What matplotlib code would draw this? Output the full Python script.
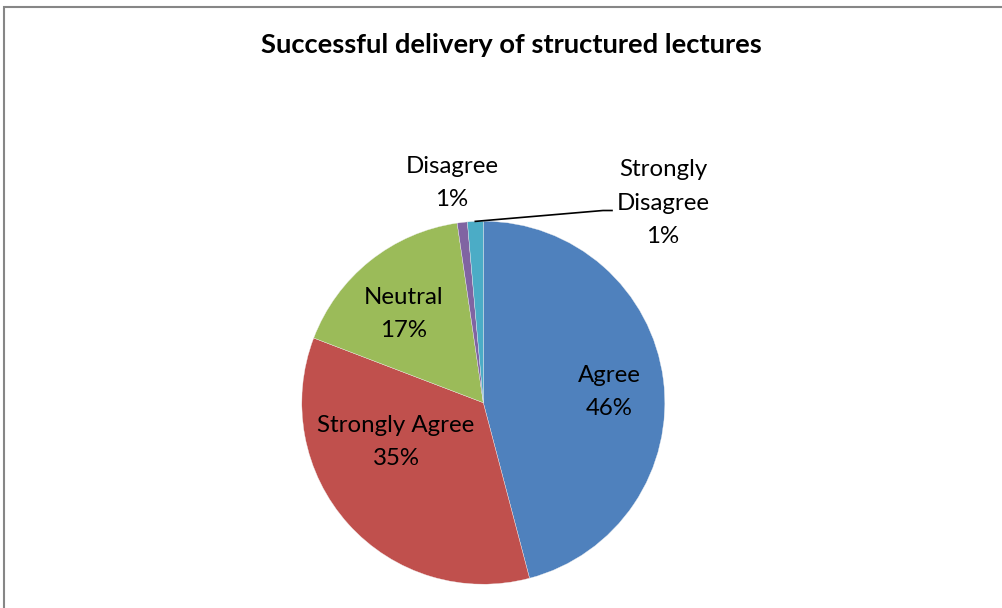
import numpy as np
import matplotlib
matplotlib.use("Agg")
import matplotlib.pyplot as plt
import matplotlib.patches as patches

plt.rcParams["font.family"] = ["Lato", "DejaVu Sans"]

# data, clockwise from 12 o'clock
categories = ["Agree", "Strongly Agree", "Neutral", "Disagree", "Strongly\nDisagree"]
shares = [45.9, 34.9, 16.9, 0.9, 1.4]
colors = ["#4F81BD", "#C0504D", "#9BBB59", "#8064A2", "#4BACC6"]
title = "Successful delivery of structured lectures"

W, H = 1003, 608
fig = plt.figure(figsize=(W / 100, H / 100), dpi=100)
ax = fig.add_axes([0, 0, 1, 1])

# chart area border (only top/left visible in the crop)
ax.add_patch(patches.Rectangle((4.5, -20), W + 20, H - 7 + 20, fill=False,
                               edgecolor="#868686", linewidth=1.5))

cx, cy, R = 483.3, H - 402.7, 181.5
wedges, _ = ax.pie(shares, colors=colors, startangle=90, counterclock=False,
                   center=(cx, cy), radius=R, frame=True,
                   wedgeprops=dict(linewidth=0.25, edgecolor="#f0f0f0"))
ax.set_xlim(0, W)
ax.set_ylim(0, H)
ax.set_aspect("equal")
ax.axis("off")

labels = [f"{c}\n{round(s):.0f}%" for c, s in zip(categories, shares)]
# label centres in pixel coords (Excel best-fit placement)
label_pos = [(609, 392), (396, 442), (404, 314), (452, 183), (663, 203)]
for lab, (lx, ly) in zip(labels, label_pos):
    ax.text(lx, H - ly, lab, ha="center", va="center", fontsize=17.3,
            linespacing=1.72, color="black")

# leader line for the last slice
w = wedges[-1]
mid = np.deg2rad((w.theta1 + w.theta2) / 2)
sx, sy = cx + R * np.cos(mid), cy + R * np.sin(mid)
ax.plot([sx, 603, 612], [sy, H - 210.5, H - 210.5], color="black", lw=1.2)

ax.text(511, H - 45, title, ha="center", va="center", fontsize=19.7,
        fontweight="bold")

fig.savefig("out.png", dpi=100)
